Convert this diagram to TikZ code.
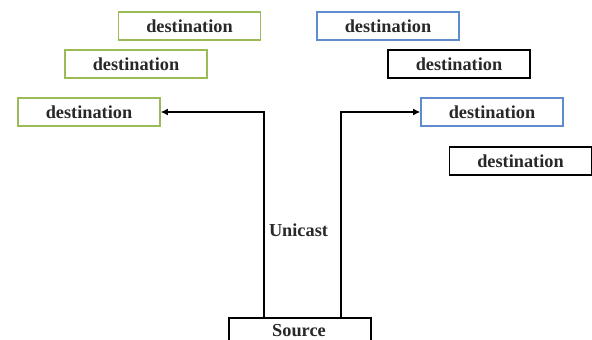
\documentclass[tikz,border=0pt]{standalone}
\usepackage{fontspec}
\setmainfont{Liberation Serif}
\usetikzlibrary{arrows.meta}
\definecolor{dgreen}{RGB}{155,187,89}
\definecolor{dblue}{RGB}{95,140,205}
\definecolor{txt}{RGB}{40,40,40}
\tikzset{
  lbl/.style={font=\fontsize{18.3}{20}\selectfont\bfseries, text=txt},
  dest/.style={draw=#1, line width=1.6pt, minimum width=142pt, minimum height=28pt, inner sep=0pt, lbl},
  link/.style={line width=1.6pt, -{Latex[length=7pt,width=7pt]}}
}
\begin{document}
\begin{tikzpicture}[x=1pt,y=-1pt]
\useasboundingbox (0,0) rectangle (592,340);
\clip (0,0) rectangle (592,340);
\node[dest=dgreen] (g1) at (189.5,26) {destination};
\node[dest=dgreen] (g2) at (136,64) {destination};
\node[dest=dgreen] (g3) at (89,112) {destination};
\node[dest=dblue] (b1) at (388,26) {destination};
\node[dest=black] (k1) at (459,64) {destination};
\node[dest=dblue] (b2) at (492,112) {destination};
\node[dest=black] (k2) at (520.5,161) {destination};
\node[dest=black, minimum height=30pt, anchor=north] (src) at (300,317) {};
\node[lbl, anchor=north] at (299,320.5) {Source};
\node[lbl] (uni) at (298.5,230) {Unicast};
\coordinate (lc) at (264,112);
\coordinate (rc) at (341,112);
\draw[link] (src.north -| lc) -- (lc) -- (g3.east);
\draw[link] (src.north -| rc) -- (rc) -- (b2.west);
\end{tikzpicture}
\end{document}
